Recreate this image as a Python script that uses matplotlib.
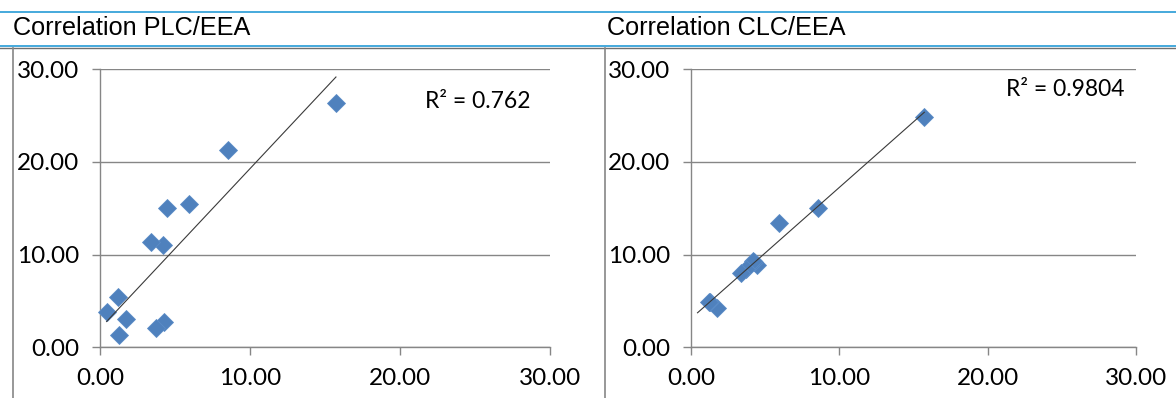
import numpy as np
import matplotlib
matplotlib.use("Agg")
import matplotlib.pyplot as plt
from matplotlib.lines import Line2D
from matplotlib.ticker import FormatStrFormatter

# EEA reference values (x) and the two land-cover estimates (y)
eea = [15.73, 8.55, 5.96, 4.44, 4.27, 4.18, 3.71, 3.38, 1.73, 1.29, 1.22, 0.44]
plc = [26.4, 21.3, 15.5, 15.0, 2.7, 11.0, 2.1, 11.4, 3.1, 1.3, 5.4, 3.8]
clc = [24.9, 15.0, 13.4, 8.9, 9.2, 9.3, 8.5, 8.0, 4.2, 4.9, 4.9, np.nan]

titles = ["Correlation PLC/EEA", "Correlation CLC/EEA"]
r2_labels = ["R\u00b2 = 0.762", "R\u00b2 = 0.9804"]
r2_pos = [(25.2, 26.5), (25.2, 27.8)]
ticks = [0, 10, 20, 30]

W, H = 1176, 398
grey = "#868686"
blue = "#4f81bd"
tick_font = "Lato"

fig = plt.figure(figsize=(W / 100, H / 100), dpi=100)

def fx(px):
    return px / W

def fy(py):
    return 1 - py / H

# table borders around the two chart cells
for y, c, lw in [(12, "#45a9dc", 1.4), (45.5, "#45a9dc", 1.4), (47.5, "#707070", 1.0)]:
    fig.add_artist(Line2D([0, 1], [fy(y), fy(y)], transform=fig.transFigure, color=c, lw=lw))
for x in [12.7, 605.5]:
    fig.add_artist(Line2D([fx(x), fx(x)], [fy(47.5), 0], transform=fig.transFigure, color=grey, lw=1.2))

fig.text(fx(13), fy(35), titles[0], fontsize=18.2, family="Liberation Sans", va="baseline")
fig.text(fx(607), fy(35), titles[1], fontsize=18.2, family="Liberation Sans", va="baseline")

boxes = [(100, 550), (691, 1136)]
series = [plc, clc]

for i in range(2):
    x0, x1 = boxes[i]
    ax = fig.add_axes([fx(x0), fy(347.3), (x1 - x0) / W, (347.3 - 69.3) / H])
    x = np.array(eea)
    y = np.array(series[i], dtype=float)
    ok = ~np.isnan(y)

    ax.plot(x[ok], y[ok], linestyle="none", marker="D", markersize=9.6,
            color=blue, markeredgecolor="#5b8cc7", markeredgewidth=0.6, zorder=3, clip_on=False)

    # linear trendline over the EEA range
    k, b = np.polyfit(x[ok], y[ok], 1)
    xs = np.array([x.min(), x.max()])
    ax.plot(xs, k * xs + b, color="#3a3a3a", lw=0.8, zorder=4)

    ax.text(r2_pos[i][0], r2_pos[i][1], r2_labels[i], fontsize=16.5, family=tick_font,
            ha="center", va="center")

    ax.set_xlim(0, 30)
    ax.set_ylim(0, 30)
    ax.set_xticks(ticks)
    ax.set_yticks(ticks)
    ax.xaxis.set_major_formatter(FormatStrFormatter("%.2f"))
    ax.yaxis.set_major_formatter(FormatStrFormatter("%.2f"))
    ax.grid(axis="y", color=grey, lw=1)
    ax.set_axisbelow(True)
    for s in ["top", "right"]:
        ax.spines[s].set_visible(False)
    for s in ["left", "bottom"]:
        ax.spines[s].set_color(grey)
        ax.spines[s].set_linewidth(1)
    ax.tick_params(direction="out", length=6, width=1, color=grey, labelsize=17.5)
    ax.tick_params(axis="y", pad=9)
    ax.tick_params(axis="x", pad=9)
    for lab in ax.get_xticklabels() + ax.get_yticklabels():
        lab.set_family(tick_font)

fig.savefig("out.png", dpi=100)
